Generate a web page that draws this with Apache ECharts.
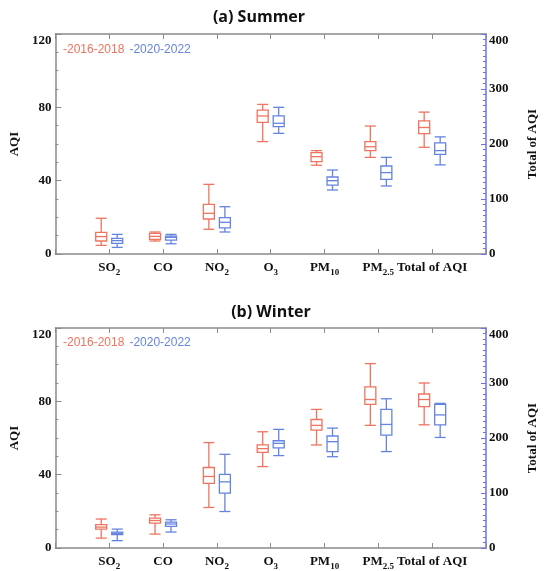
<!DOCTYPE html>
<html>
<head>
<meta charset="utf-8">
<script src="https://cdn.jsdelivr.net/npm/echarts@6/dist/echarts.min.js"></script>
<style>html,body{margin:0;padding:0;background:#fff;}#c{width:547px;height:571px;}</style>
</head>
<body>
<div id="c"></div>
<script>
// ---- data ----
const catMain = ['SO', 'CO', 'NO', 'O', 'PM', 'PM', 'Total of AQI'];
const catSub  = ['2', '', '2', '3', '10', '2.5', ''];
const periods = ['2016-2018', '2020-2022'];
const panelTitles = ['(a) Summer', '(b) Winter'];
const leftTicks = [0, 40, 80, 120];
const rightTicks = [0, 100, 200, 300, 400];

// [min, Q1, median, Q3, max] for SO2, CO, NO2, O3, PM10, PM2.5 (AQI)
const summer1618 = [
  [4.7, 7.1, 9.5, 11.8, 19.5],
  [7.1, 8.0, 9.6, 11.3, 12.0],
  [13.5, 19.1, 22.2, 27.1, 38.0],
  [61.3, 71.8, 75.3, 78.5, 81.6],
  [48.4, 50.4, 53.1, 55.3, 56.4],
  [52.7, 56.4, 58.5, 61.3, 69.8]
];
const summer2022 = [
  [3.6, 5.8, 7.3, 8.5, 10.7],
  [5.6, 7.6, 9.1, 9.8, 10.7],
  [12.0, 14.2, 17.3, 19.8, 25.8],
  [65.8, 69.5, 71.3, 75.3, 80.0],
  [34.9, 37.6, 40.0, 42.0, 45.8],
  [37.1, 40.7, 44.4, 48.0, 52.7]
];
// Total of AQI (right axis)
const summerTotal1618 = [194, 219, 230, 242, 258];
const summerTotal2022 = [162, 181, 188, 202, 213];

const winter1618 = [
  [5.4, 10.3, 11.4, 12.7, 15.8],
  [7.6, 13.6, 15.0, 16.3, 18.1],
  [22.1, 35.3, 39.0, 43.9, 57.5],
  [44.4, 52.2, 54.2, 56.2, 63.4],
  [56.2, 64.3, 66.9, 70.1, 75.6],
  [66.9, 78.3, 81.0, 87.9, 100.6]
];
const winter2022 = [
  [4.0, 7.3, 8.0, 8.7, 10.3],
  [8.7, 11.8, 13.1, 14.1, 15.4],
  [19.9, 29.9, 36.1, 40.2, 51.1],
  [50.4, 54.6, 57.1, 58.5, 64.7],
  [49.8, 52.6, 58.0, 61.1, 65.4],
  [52.6, 61.6, 67.4, 75.6, 81.4]
];
const winterTotal1618 = [224, 257, 270, 280, 300];
const winterTotal2022 = [201, 224, 242, 261, 263];

// ---- styles ----
const RED = '#ef735e';
const BLUE = '#6584e0';
const AXIS_GRAY = '#8a8a8a';
const AXIS_BLUE = '#6c70ee';
const SERIF = 'Liberation Serif';
const BOX_HALF = 5.5;
const BOX_OFFSET = 8;

function boxRender(offset, color) {
  return function (params, api) {
    const x = api.value(0);
    const pMin = api.coord([x, api.value(1)]);
    const pQ1 = api.coord([x, api.value(2)]);
    const pMed = api.coord([x, api.value(3)]);
    const pQ3 = api.coord([x, api.value(4)]);
    const pMax = api.coord([x, api.value(5)]);
    const cx = pMin[0] + offset;
    const st = { stroke: color, lineWidth: 1.3, fill: null };
    const ln = (x1, y1, x2, y2) => ({ type: 'line', shape: { x1, y1, x2, y2 }, style: st });
    return {
      type: 'group',
      children: [
        { type: 'rect', shape: { x: cx - BOX_HALF, y: pQ3[1], width: BOX_HALF * 2, height: pQ1[1] - pQ3[1] }, style: st },
        ln(cx - BOX_HALF, pMed[1], cx + BOX_HALF, pMed[1]),
        ln(cx, pQ3[1], cx, pMax[1]),
        ln(cx, pQ1[1], cx, pMin[1]),
        ln(cx - BOX_HALF, pMax[1], cx + BOX_HALF, pMax[1]),
        ln(cx - BOX_HALF, pMin[1], cx + BOX_HALF, pMin[1])
      ]
    };
  };
}

function toPollutantData(arr) { return arr.map((v, i) => [i + 1].concat(v)); }
function toTotalData(v) { return [[catMain.length].concat(v)]; }

const grids = [
  { left: 52, top: 34, width: 440, height: 220 },
  { left: 52, top: 328, width: 440, height: 220 }
];

const xAxes = [], yAxes = [], series = [];
[0, 1].forEach(g => {
  xAxes.push({
    type: 'value', gridIndex: g, min: 0, max: 8, interval: 1, position: 'bottom',
    axisLine: { onZero: false, lineStyle: { color: AXIS_GRAY, width: 1.5 } },
    axisTick: { inside: true, length: 5, lineStyle: { color: AXIS_GRAY } },
    splitLine: { show: false },
    axisLabel: {
      margin: 5,
      formatter: function (v) {
        const i = Math.round(v) - 1;
        if (i < 0 || i >= catMain.length) return '';
        return catSub[i] ? '{m|' + catMain[i] + '}{s|' + catSub[i] + '}' : '{m|' + catMain[i] + '}';
      },
      rich: {
        m: { fontFamily: SERIF, fontWeight: 'bold', fontSize: 13, color: '#111', lineHeight: 18, verticalAlign: 'middle' },
        s: { fontFamily: SERIF, fontWeight: 'bold', fontSize: 9, color: '#111', lineHeight: 9, verticalAlign: 'bottom' }
      }
    }
  });
  xAxes.push({
    type: 'value', gridIndex: g, min: 0, max: 8, interval: 1, position: 'top',
    axisLine: { onZero: false, lineStyle: { color: AXIS_GRAY, width: 1.5 } },
    axisTick: { inside: true, length: 5, lineStyle: { color: AXIS_GRAY } },
    axisLabel: { show: false }, splitLine: { show: false }
  });
  yAxes.push({
    type: 'value', gridIndex: g, min: leftTicks[0], max: leftTicks[leftTicks.length - 1], interval: 40, position: 'left',
    name: 'AQI', nameLocation: 'middle', nameGap: 26,
    nameTextStyle: { fontFamily: SERIF, fontWeight: 'bold', fontSize: 13, color: '#111' },
    axisLine: { show: true, onZero: false, lineStyle: { color: AXIS_GRAY, width: 1.5 } },
    axisTick: { show: true, inside: true, length: 6, lineStyle: { color: AXIS_GRAY } },
    minorTick: { show: true, splitNumber: 4, length: 3, lineStyle: { color: AXIS_GRAY } },
    splitLine: { show: false },
    axisLabel: { fontFamily: SERIF, fontWeight: 'bold', fontSize: 13, color: '#111', margin: 4,
      verticalAlignMaxLabel: 'top' }
  });
  yAxes.push({
    type: 'value', gridIndex: g, min: rightTicks[0], max: rightTicks[rightTicks.length - 1], interval: 100, position: 'right',
    name: 'Total of AQI', nameLocation: 'middle', nameGap: 40,
    nameTextStyle: { fontFamily: SERIF, fontWeight: 'bold', fontSize: 13, color: '#111' },
    axisLine: { show: true, onZero: false, lineStyle: { color: AXIS_BLUE, width: 1.5 } },
    axisTick: { show: true, inside: true, length: 5, lineStyle: { color: AXIS_BLUE } },
    minorTick: { show: true, splitNumber: 10, length: 3, lineStyle: { color: AXIS_BLUE } },
    splitLine: { show: false },
    axisLabel: { fontFamily: SERIF, fontWeight: 'bold', fontSize: 13, color: '#111', margin: 3,
      verticalAlignMaxLabel: 'top' }
  });
});

const panels = [
  { p: [summer1618, summer2022], t: [summerTotal1618, summerTotal2022] },
  { p: [winter1618, winter2022], t: [winterTotal1618, winterTotal2022] }
];
const colors = [RED, BLUE];
const offsets = [-BOX_OFFSET, BOX_OFFSET];
panels.forEach((pn, g) => {
  [0, 1].forEach(k => {
    series.push({
      type: 'custom', name: periods[k], color: colors[k],
      xAxisIndex: g * 2, yAxisIndex: g * 2,
      renderItem: boxRender(offsets[k], colors[k]),
      encode: { x: 0, y: [1, 2, 3, 4, 5] },
      data: toPollutantData(pn.p[k])
    });
    series.push({
      type: 'custom', name: periods[k], color: colors[k],
      xAxisIndex: g * 2, yAxisIndex: g * 2 + 1,
      renderItem: boxRender(offsets[k], colors[k]),
      encode: { x: 0, y: [1, 2, 3, 4, 5] },
      data: toTotalData(pn.t[k])
    });
  });
});

const legendCommon = {
  orient: 'horizontal', icon: 'rect', itemWidth: 0, itemHeight: 0, itemGap: 0, padding: 0,
  selectedMode: false,
  formatter: name => '-' + name,
  textStyle: { fontFamily: 'Liberation Sans', fontSize: 12, padding: 0 },
  data: [
    { name: periods[0], textStyle: { color: RED } },
    { name: periods[1], textStyle: { color: BLUE } }
  ]
};

const option = {
  animation: false,
  backgroundColor: '#fff',
  title: [
    { text: panelTitles[0], left: 259, top: 7, textAlign: 'center', padding: 0,
      textStyle: { fontFamily: 'Open Sans', fontWeight: 'bold', fontSize: 16, color: '#111', lineHeight: 20 } },
    { text: panelTitles[1], left: 271, top: 302, textAlign: 'center', padding: 0,
      textStyle: { fontFamily: 'Open Sans', fontWeight: 'bold', fontSize: 16, color: '#111', lineHeight: 20 } }
  ],
  legend: [
    Object.assign({}, legendCommon, { left: 58, top: 44 }),
    Object.assign({}, legendCommon, { left: 58, top: 337 })
  ],
  grid: grids,
  xAxis: xAxes,
  yAxis: yAxes,
  series: series
};

const chart = echarts.init(document.getElementById('c'), null, { renderer: 'canvas' });
chart.setOption(option);
</script>
</body>
</html>
